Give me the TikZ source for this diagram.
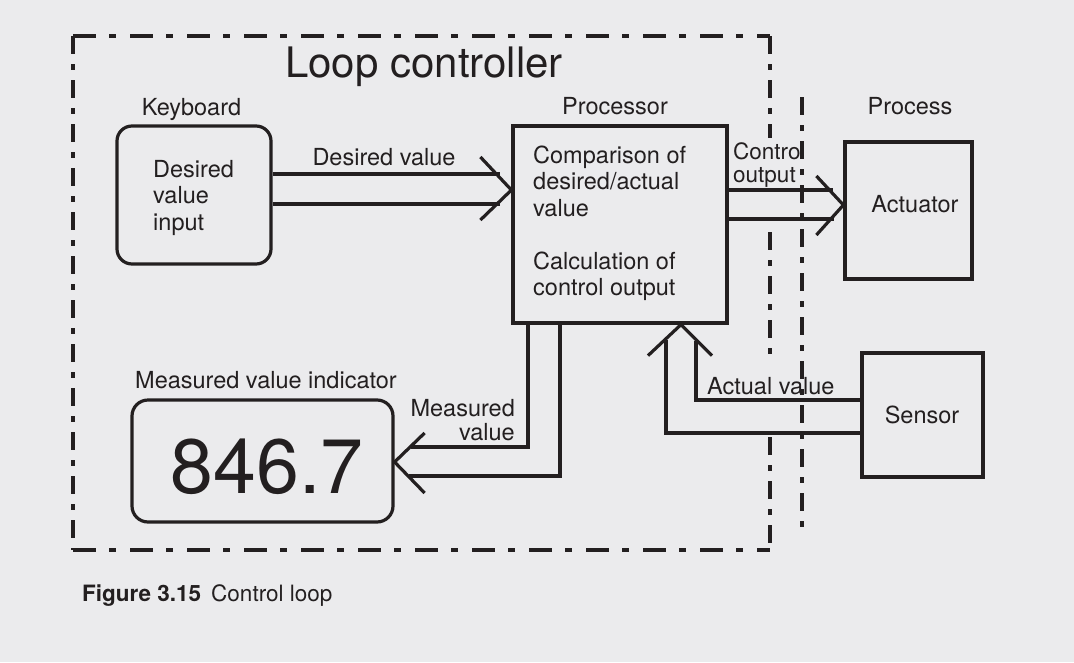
\documentclass[tikz,border=0pt]{standalone}
\usepackage{fontspec}
\setmainfont{TeX Gyre Heros}
\usetikzlibrary{calc}
\definecolor{bg}{RGB}{235,235,237}
\definecolor{ink}{RGB}{35,31,32}
\begin{document}
\begin{tikzpicture}[x=1pt,y=-1pt,
  lw/.style={line width=3.2pt},
  box/.style={draw=ink, lw, inner sep=0pt},
  conn/.style={draw=ink, lw, line join=miter},
  lbl/.style={text=ink, inner sep=0pt, font=\fontsize{23.5}{26}\selectfont},
  tight/.style={text height=16pt, text depth=2pt},
  hdash/.style={draw=ink, line width=3.4pt, dash pattern=on 23pt off 13pt on 7pt off 14pt},
  vdash/.style={draw=ink, line width=3.4pt, dash pattern=on 18pt off 10pt on 6pt off 10pt},
]
\useasboundingbox (0,0) rectangle (1074,662);
\fill[bg] (0,0) rectangle (1074,662);

% dash-dot frames
\draw[hdash] (73,36) -- (770,36);
\draw[hdash] (73,550) -- (770,550);
\draw[vdash] (73,36) -- (73,550);
\draw[vdash] (770,36) -- (770,138);
\draw[vdash] (770,232) -- (770,357);
\draw[vdash] (770,437) -- (770,550);
\draw[vdash] (802,97) -- (802,536);

% boxes
\node[box, rounded corners=15pt, minimum width=154pt, minimum height=138pt] (kb) at (194,195) {};
\node[box, minimum width=214pt, minimum height=197pt] (proc) at (620,224.5) {};
\node[box, minimum width=127pt, minimum height=137pt] (act) at (908.5,210.5) {};
\node[box, minimum width=121pt, minimum height=124pt] (sen) at (922.5,415) {};
\node[box, rounded corners=16pt, minimum width=261pt, minimum height=122pt] (ind) at (262.5,461) {};

% titles and labels
\node[lbl, font=\fontsize{42}{46}\selectfont, anchor=base] (title) at (424,77) {Loop controller};
\node[lbl, anchor=base] (kbl) at (191.5,115) {Keyboard};
\node[lbl, anchor=base] (procl) at (615,114) {Processor};
\node[lbl, anchor=base] (procsl) at (910,114) {Process};
\node[lbl, anchor=base west] (indl) at (135,388) {Measured value indicator};

\node[lbl, anchor=base west] (kb1) at (153,177) {Desired};
\node[lbl, anchor=base west] (kb2) at (153,203.5) {value};
\node[lbl, anchor=base west] (kb3) at (153,230) {input};

\node[lbl, anchor=base west] (p1) at (533,163) {Comparison of};
\node[lbl, anchor=base west] (p2) at (533,189.5) {desired/actual};
\node[lbl, anchor=base west] (p3) at (533,216) {value};
\node[lbl, anchor=base west] (p4) at (533,269) {Calculation of};
\node[lbl, anchor=base west] (p5) at (533,295) {control output};

\node[lbl, anchor=base] (actt) at (915,212) {Actuator};
\node[lbl, anchor=base] (sent) at (922,423) {Sensor};
\node[lbl, font=\fontsize{77}{80}\selectfont, anchor=base] (num) at (267,493) {846.7};

\node[lbl, anchor=base] (dvl) at (384,165) {Desired value};
\node[lbl, tight, font=\fontsize{22.5}{24}\selectfont, anchor=base west] (co1) at (733,159) {Control};
\node[lbl, tight, font=\fontsize{22.5}{24}\selectfont, anchor=base west] (co2) at (733,182) {output};
\node[lbl, anchor=base west] (avl) at (707,394) {Actual value};
\node[lbl, tight, anchor=base east] (mv1) at (515,416) {Measured};
\node[lbl, tight, anchor=base east] (mv2) at (515,440) {value};

% caption
\node[lbl, font=\fontsize{22.5}{26}\selectfont, anchor=base west] (cap) at (82,601) {\textbf{Figure 3.15}\hspace{0.45em}Control loop};

% desired value: keyboard -> processor
\coordinate (t1) at ($(proc.west)+(0,-34.5)$);
\draw[conn] ($(kb.east)+(0,-21)$) -- ($(kb.east)+(227,-21)$);
\draw[conn] ($(kb.east)+(0,9)$) -- ($(kb.east)+(227,9)$);
\draw[conn] ($(t1)+(-31,-33)$) -- (t1) -- ($(t1)+(-31,30)$);

% control output: processor -> actuator
\coordinate (t2) at ($(act.west)+(0,-5.5)$);
\draw[conn] ($(proc.east)+(0,-34.5)$) -- ($(proc.east)+(104,-34.5)$);
\draw[conn] ($(proc.east)+(0,-5.5)$) -- ($(proc.east)+(105,-5.5)$);
\draw[conn] ($(t2)+(-27,-29)$) -- (t2) -- ($(t2)+(-27,30)$);

% actual value: sensor -> processor
\coordinate (t3) at ($(proc.south)+(61,0)$);
\draw[conn] ($(sen.west)+(0,-15)$) -| ($(t3)+(15,16)$);
\draw[conn] ($(sen.west)+(0,18)$) -| ($(t3)+(-15,15)$);
\draw[conn] ($(t3)+(-33,31)$) -- (t3) -- ($(t3)+(31,31)$);

% measured value: processor -> indicator
\coordinate (t4) at ($(ind.east)+(0,1)$);
\draw[conn] ($(proc.south)+(-92,0)$) |- ($(t4)+(16,-15)$);
\draw[conn] ($(proc.south)+(-60,0)$) |- ($(t4)+(14,14)$);
\draw[conn] ($(t4)+(30,-29)$) -- (t4) -- ($(t4)+(30,31)$);
\end{tikzpicture}
\end{document}
